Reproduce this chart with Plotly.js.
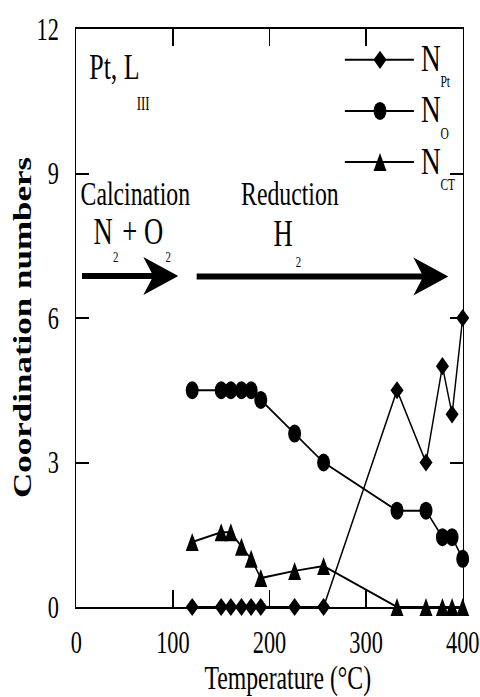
<!DOCTYPE html>
<html>
<head>
<meta charset="utf-8">
<script src="https://cdn.plot.ly/plotly-3.0.1.min.js"></script>
<style>
  html, body { margin: 0; padding: 0; background: #fff; overflow: hidden; }
  /* the figure is laid out wide and then condensed horizontally */
  #chart { width: 667px; height: 697px; transform: scaleX(0.7196); transform-origin: 0 0; }
</style>
</head>
<body>
<div id="chart"></div>
<script>
// Pt L_III EXAFS coordination numbers during calcination / reduction
const temperature = [120, 150, 160, 171, 181, 191, 226, 256, 332, 362, 379, 389, 400];
const nPt = [0, 0, 0, 0, 0, 0, 0, 0, 4.5, 3, 5, 4, 6];
const nO  = [4.5, 4.5, 4.5, 4.5, 4.5, 4.3, 3.6, 3.0, 2.0, 2.0, 1.45, 1.45, 1.0];
const nCT = [1.35, 1.55, 1.55, 1.25, 1.0, 0.6, 0.75, 0.85, 0, 0, 0, 0, 0];

const xTicks = [0, 100, 200, 300, 400];
const yTicks = [0, 3, 6, 9, 12];

const serif = 'Liberation Serif, Times New Roman, serif';
const black = '#000';

const series = [
  { main: 'N', sub: 'Pt', y: nPt, marker: { symbol: 'diamond', size: 14 } },
  { main: 'N', sub: 'O',  y: nO,  marker: { symbol: 'circle', size: 18 } },
  { main: 'N', sub: 'CT', y: nCT, marker: { symbol: 'arrow-down', angle: 180, standoff: 9, size: 18 } }
];

const traces = series.map(s => ({
  type: 'scatter',
  mode: 'lines+markers',
  name: s.main + '<sub>' + s.sub + '</sub>',
  x: temperature,
  y: s.y,
  line: { color: black, width: 2 },
  marker: Object.assign({ color: black, line: { width: 0 } }, s.marker),
  cliponaxis: false,
  showlegend: false
}));

// hand-drawn key in the upper right corner
const keyLine = { x0: 278, x1: 349.5, xMarker: 314.4, xText: 355.8, xSub: 376.5 };
const keyRows = [11.36, 10.30, 9.24];
const keyGlyphs = [
  { type: 'path', path: 'M9.1,0L0,9.1L-9.1,0L0,-9.1Z' },
  { type: 'circle', x0: -9, x1: 9, y0: -9, y1: 9 },
  { type: 'path', path: 'M0,9L9,-9L-9,-9Z' }
];

const shapes = [];
const annotations = [];

function txt(text, x, y, size, opts) {
  return Object.assign({
    text: text, x: x, y: y, xref: 'x', yref: 'y',
    showarrow: false, xanchor: 'center', yanchor: 'middle', borderpad: 0,
    font: { family: serif, size: size, color: black }
  }, opts || {});
}

series.forEach((s, i) => {
  const yRow = keyRows[i];
  shapes.push({
    type: 'line', xref: 'x', yref: 'y',
    x0: keyLine.x0, x1: keyLine.x1, y0: yRow, y1: yRow,
    line: { color: black, width: 2 }
  });
  shapes.push(Object.assign({
    xref: 'x', yref: 'y', xsizemode: 'pixel', ysizemode: 'pixel',
    xanchor: keyLine.xMarker, yanchor: yRow,
    fillcolor: black, line: { width: 0 }
  }, keyGlyphs[i]));
  annotations.push(txt(s.main, keyLine.xText, yRow + 0.03, 38, { xanchor: 'left' }));
  annotations.push(txt(s.sub, keyLine.xSub, yRow - 0.46, 16, { xanchor: 'left' }));
});

// process arrows (thick shaft with a barbed head)
function arrowPath(x0, xTip, y) {
  const headLen = 36.2, notch = 10.3, hh = 0.395, hs = 0.062;
  const barb = xTip - headLen;
  const join = barb + notch * (hh - hs) / hh;
  return 'M' + x0 + ',' + (y - hs) + 'L' + x0 + ',' + (y + hs) +
         'L' + join + ',' + (y + hs) + 'L' + barb + ',' + (y + hh) +
         'L' + xTip + ',' + y + 'L' + barb + ',' + (y - hh) +
         'L' + join + ',' + (y - hs) + 'Z';
}
shapes.push({ type: 'path', xref: 'x', yref: 'y', path: arrowPath(5.9, 105.6, 6.87),
              fillcolor: black, line: { width: 0 } });
shapes.push({ type: 'path', xref: 'x', yref: 'y', path: arrowPath(124.6, 385.1, 6.86),
              fillcolor: black, line: { width: 0 } });

// labels inside the frame
annotations.push(txt('Pt, L', 12.6, 11.22, 36, { xanchor: 'left' }));
annotations.push(txt('III', 62.0, 10.44, 18, { xanchor: 'left' }));
annotations.push(txt('Calcination', 61.3, 8.58, 33));
annotations.push(txt('N', 28.2, 7.79, 37));
annotations.push(txt('2', 41.1, 7.27, 15));
annotations.push(txt('+ O', 69, 7.79, 37));
annotations.push(txt('2', 95, 7.27, 15));
annotations.push(txt('Reduction', 221.2, 8.58, 33));
annotations.push(txt('H', 214.5, 7.76, 37));
annotations.push(txt('2', 230, 7.16, 15));

// axis titles
annotations.push({
  text: 'Coordination numbers', xref: 'paper', yref: 'paper', x: -0.14, y: 0.484,
  xanchor: 'center', yanchor: 'middle', textangle: -90, showarrow: false,
  font: { family: serif, size: 35, color: black, weight: 'bold' }
});
annotations.push({
  text: 'Temperature (°C)', xref: 'paper', yref: 'paper', x: 0.5466, y: -0.124,
  xanchor: 'center', yanchor: 'middle', showarrow: false,
  font: { family: serif, size: 33, color: black }
});

const axisCommon = {
  ticks: 'inside', ticklen: 17, tickwidth: 2, tickcolor: black,
  showline: true, linewidth: 2, linecolor: black, mirror: 'ticks',
  showgrid: false, zeroline: false, fixedrange: true,
  tickfont: { family: serif, size: 31, color: black }
};

const layout = {
  width: 667, height: 697,
  margin: { l: 106, r: 24, t: 29, b: 90 },
  paper_bgcolor: '#fff', plot_bgcolor: '#fff',
  showlegend: false,
  xaxis: Object.assign({}, axisCommon, {
    range: [0, 400], tickvals: xTicks, ticktext: xTicks.map(String), ticklabelstandoff: 7
  }),
  yaxis: Object.assign({}, axisCommon, {
    range: [0, 12], tickvals: yTicks, ticktext: yTicks.map(String), ticklabelstandoff: 16
  }),
  shapes: shapes,
  annotations: annotations
};

Plotly.newPlot('chart', traces, layout, { displayModeBar: false, staticPlot: true });
</script>
</body>
</html>
